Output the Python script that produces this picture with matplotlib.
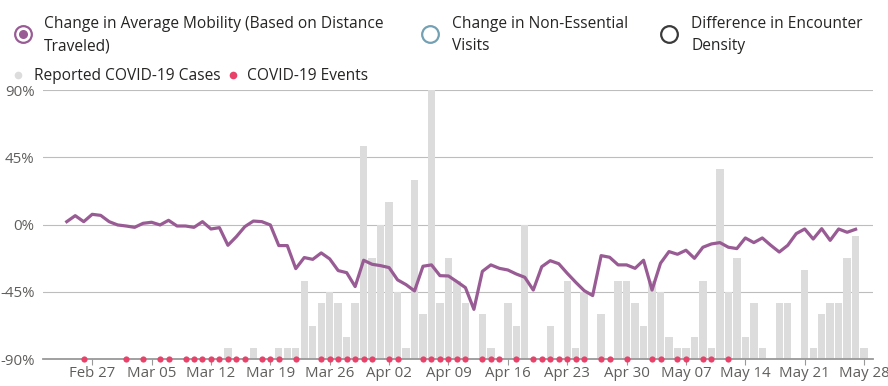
import matplotlib
matplotlib.use("Agg")
import matplotlib.pyplot as plt
import matplotlib.dates as mdates
from matplotlib.lines import Line2D
import numpy as np
import pandas as pd

plt.rcParams['font.family'] = ['Open Sans', 'DejaVu Sans']

# mobility change (%), one value a day from Feb 24
mobility_start = '2020-02-24'
mobility = [2.0, 6.0, 2.0, 6.9, 6.2, 2.0,
            -0.2, -0.9, -1.8, 0.9, 1.6, -0.2, 2.9, -0.9, -0.9, -1.8,
            2.0, -2.9, -2.0, -13.8, -8.0, -1.3, 2.4, 2.0, -0.2, -14.0,
            -14.0, -29.4, -22.0, -23.2, -18.9, -22.9, -30.7, -32.1, -41.4, -23.8, -26.5,
            -27.4, -28.7, -36.9, -40.1, -44.3, -27.8, -26.9, -34.1, -34.3, -38.1,
            -42.1, -56.6, -31.2, -26.9, -29.2, -30.3, -33.0, -35.2, -43.7, -28.1,
            -24.1, -26.1, -32.5, -38.5, -44.1, -47.4, -20.7, -21.8, -26.9, -26.9,
            -29.2, -23.8, -43.7, -25.8, -18.0, -19.8, -17.1, -22.5, -15.1, -12.9,
            -12.0, -15.1, -16.0, -8.9, -12.0, -8.9, -13.8, -18.3, -13.8, -6.0,
            -2.9, -9.6, -2.7, -10.5, -2.9, -5.1, -3.1]

# reported cases per day from Mar 14
cases_start = '2020-03-14'
cases = [1, 0, 0, 1, 0, 0, 1, 1, 1, 7, 3, 5, 6, 5, 2, 5, 19, 9,
         12, 14, 6, 1, 16, 4, 24, 5, 9, 7, 5, 0, 4, 1, 0, 5, 3, 12, 0, 0,
         3, 0, 7, 1, 6, 0, 4, 0, 7, 7,
         5, 3, 7, 6, 2, 1, 1, 2, 7, 1, 17, 6, 9, 2, 5, 1, 0, 5, 5, 0,
         8, 1, 4, 5, 5, 9, 11, 1]
cases_max = 24

event_days = ['2020-02-26', '2020-03-02', '2020-03-04', '2020-03-06', '2020-03-07',
              '2020-03-09', '2020-03-10', '2020-03-11', '2020-03-12', '2020-03-13',
              '2020-03-14', '2020-03-15', '2020-03-16', '2020-03-18', '2020-03-19',
              '2020-03-20', '2020-03-22', '2020-03-25', '2020-03-26', '2020-03-27',
              '2020-03-28', '2020-03-29', '2020-03-30', '2020-03-31', '2020-04-02',
              '2020-04-03', '2020-04-06', '2020-04-07', '2020-04-08', '2020-04-09',
              '2020-04-10', '2020-04-11', '2020-04-13', '2020-04-14', '2020-04-15',
              '2020-04-17', '2020-04-19', '2020-04-20', '2020-04-21', '2020-04-22',
              '2020-04-23', '2020-04-24', '2020-04-25', '2020-04-27', '2020-04-28',
              '2020-04-30', '2020-05-03', '2020-05-04', '2020-05-06', '2020-05-07',
              '2020-05-09', '2020-05-10', '2020-05-12']

tick_start = '2020-02-27'
n_ticks = 14
y_ticks = [-90, -45, 0, 45, 90]
y_labels = ['-90%', '-45%', '0%', '45%', '90%']

purple = '#985b94'
grey_bar = '#dcdcdc'
red = '#e8416a'
tick_col = '#605e5c'
text_col = '#252423'

mob_dates = pd.date_range(mobility_start, periods=len(mobility))
case_dates = pd.date_range(cases_start, periods=len(cases))
ev_dates = pd.to_datetime(event_days)

W, H = 888, 386
fig = plt.figure(figsize=(W / 100, H / 100), dpi=100)
ax = fig.add_axes([43 / W, 1 - 359.3 / H, (873 - 43) / W, (359.3 - 90) / H])

t0 = mdates.date2num(pd.Timestamp(tick_start))
ax.set_xlim(t0 - 5.8, t0 + 92.05)
ax.set_ylim(-90, 90)
ax.set_yticks(y_ticks)
ax.set_yticklabels(y_labels)
ax.grid(axis='y', color='#bdbdbd', lw=0.8)
ax.set_xticks(pd.date_range(tick_start, periods=n_ticks, freq='7D'))
ax.xaxis.set_major_formatter(mdates.DateFormatter('%b %d'))
ax.tick_params(axis='y', length=0, pad=6, labelsize=10.8, labelcolor=tick_col)
ax.tick_params(axis='x', length=4, width=0.8, color='#999999', pad=1,
               labelsize=10.8, labelcolor=tick_col)
for s in ax.spines.values():
    s.set_visible(False)

# cases bars
ax2 = ax.twinx()
ax2.bar(case_dates, cases, width=0.87, color=grey_bar)
ax2.set_ylim(0, cases_max)
ax2.axis('off')

# mobility line + events
ax3 = ax.twinx()
ax3.set_ylim(-90, 90)
ax3.plot(mob_dates, mobility, color=purple, lw=2.3, solid_joinstyle='round')
ax3.scatter(ev_dates, np.full(len(ev_dates), ax3.get_ylim()[0]), s=20,
            color=red, zorder=5, clip_on=False, linewidths=0)
ax3.set_yticks([])
for k in ['top', 'left', 'right']:
    ax3.spines[k].set_visible(False)
ax3.spines['bottom'].set_color('#999999')
ax3.spines['bottom'].set_linewidth(1.3)

# legend
def fx(x):
    return x / W

def fy(y):
    return 1 - y / H

def mark(x, y, **kw):
    fig.add_artist(Line2D([fx(x)], [fy(y)], transform=fig.transFigure, marker='o', **kw))

fs = 11.2
mark(23, 33.5, markersize=12, mfc='white', mec=purple, mew=1.6)
mark(23, 33.5, markersize=6.5, mfc=purple, mec=purple, mew=0)
fig.text(fx(44), fy(27.5), 'Change in Average Mobility (Based on Distance', fontsize=fs, color=text_col)
fig.text(fx(44), fy(50.5), 'Traveled)', fontsize=fs, color=text_col)

mark(430, 33.5, markersize=12, mfc='white', mec='#74a0b4', mew=1.6)
fig.text(fx(452), fy(27.5), 'Change in Non-Essential', fontsize=fs, color=text_col)
fig.text(fx(452), fy(50.5), 'Visits', fontsize=fs, color=text_col)

mark(669, 33.5, markersize=12, mfc='white', mec='#3a3a3a', mew=1.6)
fig.text(fx(691), fy(27.5), 'Difference in Encounter', fontsize=fs, color=text_col)
fig.text(fx(691), fy(50.5), 'Density', fontsize=fs, color=text_col)

mark(18, 75, markersize=5.5, mfc=grey_bar, mec=grey_bar, mew=0)
fig.text(fx(34), fy(80), 'Reported COVID-19 Cases', fontsize=fs, color=text_col)
mark(233, 75, markersize=5.5, mfc=red, mec=red, mew=0)
fig.text(fx(247), fy(80), 'COVID-19 Events', fontsize=fs, color=text_col)

fig.savefig('out.png', dpi=100)
